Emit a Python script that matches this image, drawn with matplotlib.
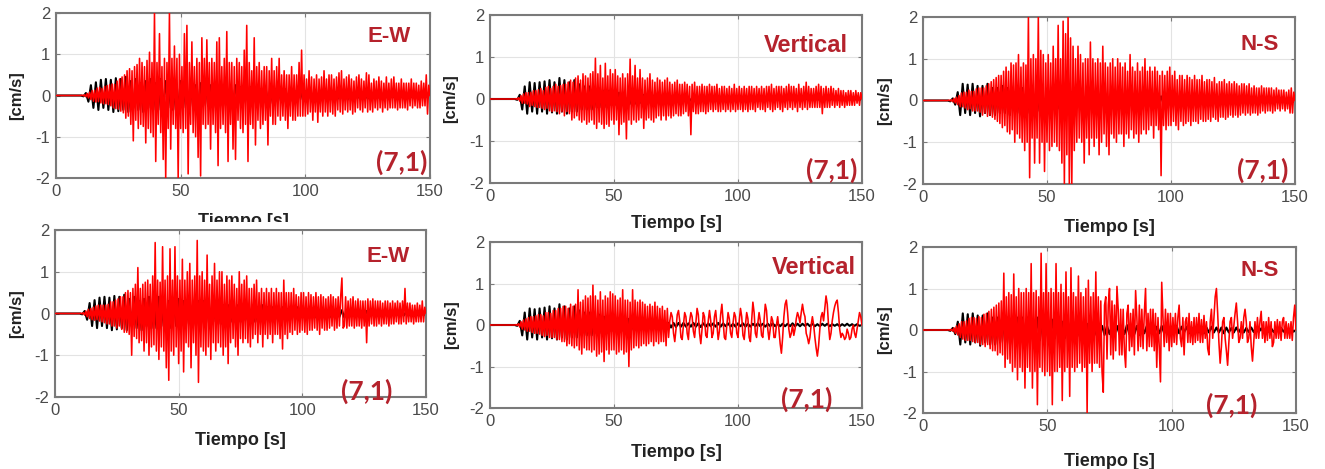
import numpy as np
import matplotlib
matplotlib.use("Agg")
import matplotlib.pyplot as plt
from matplotlib.patches import Rectangle

# ---------------- data ----------------
# x axis: time [s]; y: velocity [cm/s]
xticks = [0, 50, 100, 150]
yticks = [-2, -1, 0, 1, 2]
components = ["E-W", "Vertical", "N-S"]
case_label = "(7,1)"

red_t0, red_dt = 10.0, 0.5
blk_t0, blk_dt = 10.0, 1.0

# observed records (black), one per component, shared by both rows
black_ew = [
    0.0, -0.02, 0.06, -0.15, 0.25, -0.3, 0.32, -0.35, 0.38, -0.3,
    0.4, -0.35, 0.38, -0.4, 0.42, -0.38, 0.4, -0.35, 0.45, -0.4,
    0.35, -0.3, 0.4, -0.35, 0.3, -0.4, 0.35, -0.3, 0.4, -0.35,
    0.3, -0.35, 0.4, -0.3, 0.35, -0.3, 0.3, -0.35, 0.3, -0.3,
    0.35, -0.3, 0.3, -0.25, 0.3, -0.3, 0.25, -0.3, 0.3, -0.25,
    0.3, -0.25, 0.25, -0.3, 0.25, -0.2, 0.25, -0.25, 0.2, -0.25,
    0.2, -0.2, 0.25, -0.2, 0.2, -0.2, 0.2, -0.15, 0.2, -0.2,
    0.15, -0.2, 0.15, -0.15, 0.2, -0.15, 0.15, -0.2, 0.15, -0.15,
    0.15, -0.1, 0.15, -0.15, 0.1, -0.15, 0.1, -0.1, 0.15, -0.1,
    0.1, -0.1, 0.1, -0.1, 0.12, -0.1, 0.1, -0.08, 0.1, -0.1,
    0.08, -0.1, 0.08, -0.08, 0.1, -0.08, 0.08, -0.1, 0.08, -0.08,
    0.08, -0.06, 0.08, -0.08, 0.06, -0.08, 0.06, -0.06, 0.08, -0.06,
    0.06, -0.06, 0.05, -0.06, 0.06, -0.05, 0.05, -0.06, 0.05, -0.05,
    0.05, -0.05, 0.04, -0.05, 0.05, -0.04, 0.04, -0.05, 0.04, -0.04,
    0.0]
black_vert = [
    0.0, -0.02, 0.1, -0.25, 0.3, -0.35, 0.4, -0.3, 0.38, -0.35,
    0.4, -0.3, 0.42, -0.35, 0.45, -0.32, 0.4, -0.35, 0.5, -0.3,
    0.45, -0.35, 0.4, -0.3, 0.45, -0.3, 0.35, -0.25, 0.3, -0.25,
    0.3, -0.25, 0.25, -0.2, 0.25, -0.2, 0.2, -0.2, 0.2, -0.15,
    0.2, -0.15, 0.15, -0.15, 0.15, -0.12, 0.15, -0.12, 0.1, -0.12,
    0.1, -0.1, 0.1, -0.08, 0.1, -0.08, 0.08, -0.08, 0.08, -0.06,
    0.06, -0.06, 0.05, -0.06, 0.05, -0.05, 0.05, -0.04, 0.05, -0.04,
    0.04, -0.04, 0.05, -0.04, 0.04, -0.05, 0.04, -0.04, 0.04, -0.03,
    0.04, -0.04, 0.05, -0.04, 0.04, -0.03, 0.04, -0.04, 0.03, -0.04,
    0.04, -0.03, 0.04, -0.04, 0.03, -0.04, 0.03, -0.03, 0.04, -0.03,
    0.03, -0.04, 0.03, -0.03, 0.04, -0.03, 0.03, -0.03, 0.03, -0.03,
    0.03, -0.03, 0.04, -0.03, 0.03, -0.03, 0.03, -0.02, 0.03, -0.03,
    0.03, -0.03, 0.02, -0.03, 0.03, -0.02, 0.03, -0.03, 0.02, -0.02,
    0.02, -0.03, 0.02, -0.02, 0.03, -0.02, 0.02, -0.02, 0.02, -0.02,
    0.0]
black_ns = [
    0.0, -0.02, 0.05, -0.1, 0.2, -0.35, 0.4, -0.3, 0.38, -0.35,
    0.4, -0.3, 0.35, -0.38, 0.35, -0.3, 0.4, -0.35, 0.3, -0.35,
    0.3, -0.3, 0.35, -0.3, 0.3, -0.35, 0.3, -0.25, 0.3, -0.3,
    0.3, -0.25, 0.3, -0.3, 0.25, -0.25, 0.3, -0.25, 0.25, -0.2,
    0.25, -0.2, 0.25, -0.2, 0.2, -0.2, 0.2, -0.2, 0.2, -0.15,
    0.2, -0.15, 0.15, -0.15, 0.15, -0.15, 0.15, -0.12, 0.15, -0.12,
    0.12, -0.12, 0.1, -0.12, 0.1, -0.1, 0.12, -0.1, 0.1, -0.1,
    0.1, -0.1, 0.12, -0.1, 0.08, -0.1, 0.1, -0.12, 0.1, -0.08,
    0.1, -0.08, 0.1, -0.1, 0.08, -0.08, 0.1, -0.08, 0.08, -0.1,
    0.08, -0.08, 0.1, -0.08, 0.08, -0.06, 0.08, -0.08, 0.06, -0.08,
    0.08, -0.06, 0.08, -0.08, 0.06, -0.06, 0.08, -0.06, 0.06, -0.06,
    0.06, -0.08, 0.06, -0.06, 0.05, -0.06, 0.06, -0.05, 0.05, -0.06,
    0.05, -0.05, 0.06, -0.05, 0.05, -0.05, 0.04, -0.05, 0.05, -0.04,
    0.04, -0.05, 0.04, -0.04, 0.05, -0.04, 0.04, -0.04, 0.04, -0.04,
    0.0]

# simulated records (red), top row
red_ew_top = [
    0.00, 0.01, -0.01, 0.02, -0.03, 0.05, -0.06, 0.08, -0.10, 0.12, -0.14, 0.13, -0.16, 0.18, -0.15, 0.20, -0.18, 0.17, -0.20, 0.22,
    -0.20, 0.24, -0.22, 0.26, -0.25, 0.28, -0.30, 0.27, -0.32, 0.35, -0.33, 0.40, -0.38, 0.45, -0.42, 0.50, -0.55, 0.60, -0.50, 0.65,
    -0.70, 0.60, -1.10, 0.70, -0.60, 0.75, -0.80, 0.90, -0.70, 0.80, -0.75, 0.70, -1.15, 0.85, -0.80, 1.05, -0.90, 0.80, -1.00, 2.00,
    -1.60, 0.80, -0.70, 1.50, -0.90, 0.70, -1.55, 0.90, -2.00, 0.80, -0.80, 2.00, -1.30, 0.90, -0.70, 1.20, -0.80, 0.90, -2.00, 1.00,
    -0.80, 0.70, -0.90, 1.50, -0.80, 1.70, -1.90, 0.80, -0.70, 1.30, -0.90, 0.70, -1.00, 0.90, -1.50, 0.80, -1.95, 1.40, -0.70, 0.90,
    -0.80, 1.35, -0.70, 0.80, -1.30, 0.90, -0.70, 0.80, -0.90, 1.30, -1.70, 1.40, -0.80, 0.70, -0.70, 0.90, -0.90, 1.55, -1.60, 0.80,
    -0.70, 0.80, -1.30, 0.70, -1.55, 0.90, -0.60, 0.80, -0.80, 0.70, -0.90, 1.10, -0.70, 1.70, -1.60, 0.80, -0.70, 0.60, -0.80, 1.40,
    -1.20, 0.70, -0.60, 0.80, -0.80, 0.60, -0.70, 0.70, -0.60, 0.70, -1.20, 0.60, -0.50, 0.90, -0.70, 0.60, -0.70, 0.70, -0.50, 0.90,
    -0.60, 0.50, -0.50, 0.60, -0.60, 0.50, -0.80, 0.50, -0.50, 0.70, -0.60, 0.50, -0.60, 0.50, -0.50, 0.80, -0.50, 1.10, -0.50, 0.50,
    -0.50, 0.40, -0.45, 0.60, -0.40, 0.45, -0.60, 0.40, -0.40, 0.50, -0.65, 0.40, -0.40, 0.45, -0.50, 0.60, -0.40, 0.40, -0.50, 0.50,
    -0.40, 0.50, -0.45, 0.40, -0.50, 0.45, -0.35, 0.55, -0.40, 0.60, -0.45, 0.40, -0.35, 0.45, -0.40, 0.50, -0.35, 0.40, -0.45, 0.35,
    -0.40, 0.45, -0.30, 0.50, -0.35, 0.40, -0.40, 0.35, -0.30, 0.55, -0.40, 0.50, -0.35, 0.30, -0.40, 0.40, -0.30, 0.35, -0.35, 0.45,
    -0.30, 0.35, -0.40, 0.30, -0.30, 0.45, -0.35, 0.30, -0.30, 0.40, -0.30, 0.45, -0.30, 0.30, -0.35, 0.30, -0.30, 0.40, -0.30, 0.30,
    -0.30, 0.30, -0.35, 0.30, -0.25, 0.40, -0.30, 0.30, -0.25, 0.30, -0.30, 0.25, -0.30, 0.35, -0.25, 0.30, -0.25, 0.50, -0.45, 0.25,
    0.00]
red_vert_top = [
    0.00, 0.01, -0.01, 0.03, -0.05, 0.08, -0.10, 0.12, -0.10, 0.15, -0.12, 0.15, -0.18, 0.16, -0.15, 0.20, -0.18, 0.20, -0.20, 0.22,
    -0.20, 0.25, -0.22, 0.20, -0.25, 0.28, -0.22, 0.30, -0.28, 0.25, -0.30, 0.30, -0.28, 0.35, -0.30, 0.30, -0.35, 0.32, -0.30, 0.35,
    -0.40, 0.35, -0.30, 0.40, -0.35, 0.45, -0.50, 0.40, -0.45, 0.50, -0.40, 0.55, -0.50, 0.45, -0.55, 0.60, -0.50, 0.55, -0.60, 0.50,
    -0.55, 0.60, -0.50, 0.65, -0.60, 0.97, -0.70, 0.60, -0.55, 0.80, -0.60, 0.50, -0.70, 0.85, -0.60, 0.55, -0.65, 0.70, -0.50, 0.60,
    -0.60, 0.70, -0.50, 0.55, -0.85, 0.50, -0.60, 0.60, -0.55, 0.50, -0.95, 0.60, -0.50, 0.95, -0.60, 0.55, -0.50, 0.80, -0.55, 0.50,
    -0.50, 0.70, -0.45, 0.50, -0.70, 0.45, -0.50, 0.50, -0.45, 0.60, -0.50, 0.45, -0.55, 0.40, -0.45, 0.50, -0.40, 0.45, -0.50, 0.40,
    -0.40, 0.45, -0.50, 0.50, -0.40, 0.40, -0.45, 0.35, -0.40, 0.40, -0.35, 0.45, -0.40, 0.35, -0.40, 0.35, -0.35, 0.40, -0.30, 0.35,
    -0.40, 0.30, -0.85, 0.35, -0.30, 0.40, -0.35, 0.30, -0.35, 0.30, -0.30, 0.35, -0.30, 0.30, -0.35, 0.30, -0.30, 0.35, -0.25, 0.30,
    -0.30, 0.30, -0.25, 0.35, -0.30, 0.25, -0.30, 0.30, -0.25, 0.30, -0.30, 0.25, -0.25, 0.30, -0.30, 0.25, -0.25, 0.35, -0.30, 0.25,
    -0.25, 0.30, -0.25, 0.25, -0.30, 0.30, -0.25, 0.25, -0.30, 0.30, -0.25, 0.30, -0.25, 0.25, -0.30, 0.30, -0.20, 0.25, -0.25, 0.30,
    -0.25, 0.25, -0.30, 0.30, -0.20, 0.30, -0.25, 0.35, -0.30, 0.25, -0.25, 0.30, -0.20, 0.30, -0.25, 0.30, -0.30, 0.25, -0.20, 0.30,
    -0.25, 0.35, -0.20, 0.30, -0.25, 0.30, -0.20, 0.25, -0.30, 0.35, -0.20, 0.25, -0.25, 0.30, -0.20, 0.40, -0.25, 0.30, -0.20, 0.25,
    -0.20, 0.25, -0.20, 0.30, -0.20, 0.35, -0.20, 0.30, -0.35, 0.25, -0.20, 0.30, -0.20, 0.25, -0.20, 0.30, -0.15, 0.25, -0.20, 0.20,
    -0.15, 0.25, -0.20, 0.20, -0.15, 0.20, -0.20, 0.15, -0.15, 0.20, -0.15, 0.20, -0.15, 0.15, -0.15, 0.20, -0.10, 0.15, -0.15, 0.15,
    0.00]
red_ns_top = [
    0.00, 0.01, -0.01, 0.02, -0.03, 0.05, -0.06, 0.08, -0.10, 0.12, -0.15, 0.18, -0.15, 0.20, -0.18, 0.20, -0.22, 0.25, -0.20, 0.22,
    -0.25, 0.22, -0.25, 0.28, -0.25, 0.30, -0.28, 0.30, -0.35, 0.30, -0.30, 0.35, -0.38, 0.40, -0.35, 0.45, -0.40, 0.50, -0.45, 0.55,
    -0.50, 0.60, -0.55, 0.60, -0.65, 0.70, -0.60, 0.80, -0.75, 0.70, -0.80, 0.90, -0.70, 0.85, -1.00, 0.90, -0.80, 1.10, -0.90, 0.80,
    -1.00, 0.90, -1.20, 0.85, -1.00, 2.00, -1.85, 1.00, -0.90, 1.10, -1.50, 1.00, -0.90, 2.00, -1.50, 1.20, -1.00, 1.10, -1.70, 0.90,
    -1.00, 1.10, -1.20, 0.90, -1.10, 1.30, -1.00, 1.00, -1.10, 1.80, -1.20, 1.00, -1.50, 1.90, -2.00, 1.60, -1.30, 2.00, -2.00, 1.50,
    -2.00, 1.30, -1.20, 1.00, -1.00, 1.30, -0.90, 1.10, -1.00, 0.90, -1.50, 1.00, -0.90, 1.00, -1.30, 1.40, -0.90, 1.00, -1.10, 0.90,
    -0.90, 1.00, -1.30, 0.90, -1.00, 1.30, -0.80, 0.90, -1.10, 0.80, -1.30, 0.90, -0.80, 1.00, -0.90, 0.80, -1.00, 1.00, -0.80, 0.90,
    -0.80, 0.80, -1.10, 0.90, -0.80, 0.70, -0.90, 1.10, -0.70, 0.80, -0.90, 0.70, -0.80, 0.90, -1.00, 0.70, -0.80, 0.80, -0.70, 1.00,
    -0.80, 0.70, -0.70, 0.80, -0.60, 0.70, -0.90, 0.80, -0.60, 0.70, -0.70, 0.60, -1.80, 0.70, -0.60, 0.60, -0.70, 0.70, -0.60, 0.80,
    -0.60, 0.60, -0.50, 0.70, -0.60, 0.50, -0.70, 0.60, -0.50, 0.60, -0.60, 0.50, -0.55, 0.60, -0.50, 0.55, -0.60, 0.50, -0.50, 0.60,
    -0.50, 0.50, -0.55, 0.50, -0.45, 0.60, -0.50, 0.45, -0.50, 0.50, -0.45, 0.50, -0.50, 0.45, -0.40, 0.55, -0.45, 0.40, -0.50, 0.45,
    -0.40, 0.45, -0.40, 0.50, -0.45, 0.40, -0.40, 0.45, -0.35, 0.40, -0.40, 0.45, -0.35, 0.40, -0.40, 0.35, -0.35, 0.40, -0.30, 0.40,
    -0.35, 0.35, -0.30, 0.40, -0.35, 0.30, -0.30, 0.35, -0.30, 0.30, -0.35, 0.30, -0.30, 0.35, -0.25, 0.30, -0.30, 0.30, -0.25, 0.30,
    -0.25, 0.30, -0.30, 0.25, -0.25, 0.30, -0.20, 0.25, -0.25, 0.25, -0.20, 0.25, -0.25, 0.20, -0.20, 0.25, -0.30, 0.30, -0.30, 0.20,
    0.00]

# simulated records (red), bottom row
red_ew_bot = [
    0.00, 0.01, -0.01, 0.02, -0.04, 0.06, -0.08, 0.10, -0.12, 0.12, -0.15, 0.15, -0.16, 0.18, -0.15, 0.20, -0.18, 0.20, -0.20, 0.20,
    -0.22, 0.20, -0.25, 0.22, -0.25, 0.28, -0.30, 0.28, -0.30, 0.32, -0.35, 0.35, -0.30, 0.40, -0.38, 0.40, -0.45, 0.50, -0.45, 0.55,
    -0.50, 0.50, -1.00, 0.60, -0.55, 0.70, -0.60, 1.10, -0.70, 0.60, -0.65, 0.70, -0.90, 0.75, -0.70, 0.80, -1.00, 0.70, -0.80, 0.90,
    -0.75, 1.70, -0.90, 0.80, -1.10, 0.75, -0.80, 1.60, -0.90, 0.80, -1.30, 0.90, -1.60, 1.55, -0.90, 0.80, -1.00, 1.60, -0.80, 0.90,
    -1.20, 0.80, -0.90, 1.30, -1.40, 0.80, -0.70, 1.00, -0.80, 1.20, -1.30, 0.80, -0.70, 0.90, -1.00, 1.75, -1.65, 0.90, -0.80, 1.00,
    -0.90, 0.80, -1.00, 1.40, -0.80, 0.70, -1.10, 0.90, -0.70, 1.20, -0.90, 0.80, -0.70, 1.00, -0.80, 1.00, -1.00, 0.70, -0.80, 0.90,
    -1.20, 0.80, -0.70, 0.90, -0.60, 0.70, -0.80, 0.60, -1.00, 1.00, -0.60, 0.70, -0.70, 0.80, -0.60, 0.90, -0.70, 0.60, -0.80, 0.60,
    -0.60, 0.70, -0.50, 0.80, -0.70, 0.50, -0.50, 0.60, -0.80, 0.50, -0.50, 0.60, -0.60, 0.50, -0.50, 0.60, -0.70, 0.50, -0.50, 0.60,
    -0.50, 0.50, -0.60, 0.50, -0.85, 0.80, -0.50, 0.50, -0.60, 0.50, -0.45, 0.50, -0.50, 0.60, -0.40, 0.45, -0.50, 0.40, -0.45, 0.50,
    -0.40, 0.50, -0.45, 0.40, -0.50, 0.50, -0.40, 0.45, -0.40, 0.40, -0.35, 0.50, -0.40, 0.40, -0.50, 0.45, -0.35, 0.40, -0.40, 0.35,
    -0.40, 0.40, -0.35, 0.45, -0.30, 0.40, -0.40, 0.35, -0.35, 0.40, -0.30, 0.40, 0.85, -0.35, -0.30, 0.40, -0.35, 0.30, -0.30, 0.35,
    -0.30, 0.40, -0.35, 0.30, -0.30, 0.35, -0.30, 0.30, -0.35, 0.30, -0.30, 0.30, -0.70, 0.35, -0.30, 0.30, -0.25, 0.35, -0.30, 0.30,
    -0.30, 0.30, -0.25, 0.30, -0.30, 0.25, -0.25, 0.30, -0.25, 0.30, -0.30, 0.25, -0.25, 0.30, -0.25, 0.25, -0.20, 0.30, -0.25, 0.25,
    -0.25, 0.30, -0.20, 0.60, -0.25, 0.25, -0.20, 0.25, -0.20, 0.20, -0.25, 0.20, -0.20, 0.25, -0.20, 0.20, -0.20, 0.30, -0.20, 0.15,
    0.00]
red_vert_bot = [
    0.00, 0.01, -0.01, 0.03, -0.05, 0.08, -0.10, 0.12, -0.12, 0.15, -0.15, 0.18, -0.15, 0.20, -0.18, 0.20, -0.20, 0.22, -0.20, 0.25,
    -0.22, 0.25, -0.25, 0.22, -0.28, 0.30, -0.25, 0.30, -0.30, 0.28, -0.30, 0.35, -0.30, 0.35, -0.35, 0.40, -0.35, 0.40, -0.40, 0.45,
    -0.40, 0.45, -0.50, 0.40, -0.45, 0.50, -0.50, 0.45, -0.55, 0.50, -0.50, 0.85, -0.60, 0.55, -0.70, 0.60, -0.55, 0.70, -0.60, 0.65,
    -0.60, 0.70, -0.65, 0.96, -0.60, 0.70, -0.75, 0.60, -0.70, 0.80, -0.65, 0.60, -0.88, 0.70, -0.60, 0.65, -0.70, 0.80, -0.60, 0.75,
    -0.60, 0.70, -0.70, 0.60, -0.65, 0.65, -0.60, 0.85, -0.70, 0.60, -0.65, 0.60, -1.00, 0.55, -0.60, 0.85, -0.55, 0.60, -0.50, 0.55,
    -0.55, 0.60, -0.50, 0.55, -0.45, 0.50, -0.50, 0.45, -0.45, 0.50, -0.40, 0.45, -0.50, 0.55, -0.40, 0.45, -0.45, 0.40, -0.40, 0.45,
    -0.40, 0.35, -0.50, 0.40, -0.30, 0.10, 0.30, 0.20, -0.20, -0.40, -0.10, 0.25, 0.35, 0.10, -0.30, -0.35, 0.00, 0.30, 0.20, -0.20,
    -0.35, 0.10, 0.30, 0.20, -0.15, -0.30, 0.05, 0.40, 0.25, -0.20, -0.45, -0.10, 0.30, 0.20, -0.25, -0.30, 0.10, 0.35, 0.10, -0.30,
    -0.20, 0.20, 0.35, 0.00, -0.35, -0.15, 0.25, 0.50, 0.10, -0.30, -0.35, 0.00, 0.30, 0.15, -0.20, -0.30, 0.05, 0.30, 0.20, -0.20,
    -0.30, 0.10, 0.40, 0.20, -0.25, -0.35, 0.00, 0.30, 0.15, -0.30, -0.40, 0.10, 0.55, 0.30, -0.20, -0.30, 0.05, 0.30, 0.10, -0.25,
    -0.30, 0.10, 0.50, 0.35, -0.10, -0.35, -0.10, 0.20, 0.10, -0.30, -0.30, 0.00, 0.20, -0.10, -0.45, -0.68, -0.30, 0.20, 0.50, 0.60,
    0.30, -0.10, -0.30, -0.20, 0.00, -0.25, -0.10, 0.15, 0.30, 0.20, 0.05, 0.30, 0.50, 0.30, 0.20, -0.20, -0.30, -0.45, -0.30, 0.00,
    0.20, 0.00, -0.30, -0.55, -0.75, -0.50, -0.10, 0.20, 0.30, 0.10, 0.40, 0.70, 0.50, 0.00, -0.35, -0.20, 0.10, 0.30, 0.45, 0.55,
    0.60, 0.30, -0.10, -0.30, -0.20, -0.25, -0.35, -0.30, -0.10, -0.20, -0.35, -0.30, -0.10, 0.00, -0.20, -0.30, -0.10, 0.10, 0.30, 0.20,
    0.00]
red_ns_bot = [
    0.00, 0.01, -0.01, 0.02, -0.03, 0.05, -0.08, 0.10, -0.12, 0.15, -0.18, 0.20, -0.22, 0.20, -0.25, 0.22, -0.25, 0.28, -0.25, 0.30,
    -0.28, 0.30, -0.30, 0.28, -0.30, 0.32, -0.35, 0.30, -0.35, 0.38, -0.40, 0.40, -0.35, 0.45, -0.45, 0.50, -0.50, 0.55, -0.50, 0.60,
    -0.60, 0.65, -0.55, 0.70, -0.60, 1.37, -0.90, 0.80, -0.70, 0.90, -0.80, 0.85, -1.00, 1.35, -0.90, 0.80, -1.20, 1.00, -0.90, 0.90,
    -1.00, 0.90, -1.40, 1.00, -0.90, 0.90, -1.00, 1.60, -1.40, 0.90, -1.00, 0.95, -1.80, 0.80, -0.90, 1.85, -1.00, 0.90, -1.10, 1.60,
    -1.00, 0.90, -1.10, 1.00, -1.80, 0.90, -1.00, 1.60, -1.00, 0.90, -0.90, 1.10, -1.70, 0.90, -1.00, 1.40, -0.90, 0.80, -1.60, 1.50,
    -0.90, 0.90, -1.00, 0.80, -0.90, 1.30, -0.80, 0.90, -1.00, 0.80, -0.90, 1.00, -2.00, 1.20, -0.80, 0.80, -1.00, 0.90, -0.80, 1.40,
    -0.80, 0.80, -0.90, 0.70, -1.00, -1.50, 0.60, 0.80, -0.70, 0.60, 1.00, -0.60, 0.70, -0.70, 0.60, -0.50, 1.05, 0.50, -0.60, 0.50,
    -0.60, 0.50, -0.50, -0.90, 0.40, 0.60, -0.50, 0.40, -0.40, 0.50, -0.60, 0.95, 0.30, -0.50, 0.60, -0.40, 0.50, -0.45, 0.40, 1.00,
    -0.50, 0.40, -0.40, 0.50, -0.40, 0.50, -0.50, 0.40, -0.90, 0.30, -0.40, -1.25, 1.15, 0.30, -0.40, 0.50, -0.30, 0.40, -0.50, 0.40,
    -0.40, 0.30, -0.30, 0.40, -0.35, 0.30, 0.60, -0.20, -0.40, 0.30, -0.60, 0.20, 0.30, -0.30, 0.40, -0.30, 0.20, -0.35, 0.30, -0.30,
    0.30, -0.25, 0.40, -0.30, 0.25, -0.30, 0.35, -0.20, 0.20, -0.45, -0.60, 0.20, 0.50, -0.20, 0.30, 0.80, 1.00, 0.40, -0.30, -0.80,
    -0.40, 0.20, 0.30, -0.20, -0.50, -0.85, -0.30, 0.20, 0.30, -0.20, 0.10, 0.40, 0.65, 0.20, -0.30, -0.20, 0.20, -0.20, 0.30, 0.50,
    0.20, -0.30, -0.20, 0.20, -0.40, -0.75, -0.30, 0.20, -0.20, 0.30, -0.20, 0.20, 0.45, -0.20, 0.20, -0.30, 0.20, -0.25, 0.30, -0.20,
    0.20, -0.40, -0.30, 0.20, -0.20, 0.25, -0.20, 0.20, -0.25, 0.20, 0.30, -0.20, 0.20, -0.20, 0.15, -0.20, 0.20, -0.25, 0.30, 0.60,
    0.00]

# ---------------- layout ----------------
W, H = 1325, 469
fig = plt.figure(figsize=(W / 100, H / 100), dpi=100)
fig.patch.set_facecolor("white")

# axes boxes in pixels: left, right, top, bottom
boxes = [
    (56, 430, 13, 178), (490, 862, 15, 183), (923, 1295, 17, 184),
    (55, 426, 230, 397), (490, 862, 242, 408), (923, 1296, 247, 413),
]
xlabel_off = [43, 41, 43, 43, 44, 48]
ylabel_off = [39, 39, 38, 38, 38, 38]
comp_pos = [(389, 36), (806, 46), (1260, 45), (388, 256), (814, 268), (1260, 270)]
case_pos = [(402, 162), (832, 170), (1263, 170), (367, 391), (807, 399), (1232, 405)]

reds = [red_ew_top, red_vert_top, red_ns_top, red_ew_bot, red_vert_bot, red_ns_bot]
blacks = [black_ew, black_vert, black_ns, black_ew, black_vert, black_ns]

RED = "#FF0000"
LABEL_RED = "#B5222C"
GRID = "#E3E3E3"
SPINE = "#7A7A7A"
TICKC = "#4A4A4A"
SANS = ["Liberation Sans", "DejaVu Sans"]


def with_start(vals, t0, dt):
    v = np.asarray(vals, dtype=float)
    t = t0 + dt * np.arange(len(v))
    return np.r_[0.0, t], np.r_[0.0, v]


for i, (l, r, t, b) in enumerate(boxes):
    ax = fig.add_axes([l / W, 1 - b / H, (r - l) / W, (b - t) / H])
    ax.set_facecolor("white")
    tb, vb = with_start(blacks[i], blk_t0, blk_dt)
    tr, vr = with_start(reds[i], red_t0, red_dt)
    ax.plot(tb, vb, color="#000000", lw=1.5, zorder=2)
    ax.plot(tr, vr, color=RED, lw=1.15, zorder=3)
    ax.set_xlim(0, 150)
    ax.set_ylim(-2, 2)
    ax.set_xticks(xticks)
    ax.set_yticks(yticks)
    ax.set_xticklabels([str(v) for v in xticks])
    ax.set_yticklabels([str(v) for v in yticks])
    ax.grid(True, color=GRID, lw=0.8, zorder=0)
    ax.set_axisbelow(True)
    for s in ax.spines.values():
        s.set_color(SPINE)
        s.set_linewidth(1.5)
    ax.tick_params(direction="in", length=3, width=0.8, color=SPINE,
                   top=True, right=True, labelsize=12, labelcolor=TICKC, pad=4)
    for lab in ax.get_xticklabels() + ax.get_yticklabels():
        lab.set_family(SANS)
    h = b - t
    w = r - l
    ax.set_xlabel("Tiempo [s]", fontsize=13, fontweight="bold", family=SANS,
                  color="#222222", va="center")
    ax.xaxis.set_label_coords(0.5, -xlabel_off[i] / h)
    ax.set_ylabel("[cm/s]", fontsize=12, fontweight="bold", family=SANS,
                  color="#222222", va="center")
    ax.yaxis.set_label_coords(-ylabel_off[i] / w, 0.5)

    cx, cy = comp_pos[i]
    fig.text(cx / W, 1 - cy / H, components[i % 3], ha="center", va="center",
             fontsize=17 if components[i % 3] == "Vertical" else 16,
             fontweight="bold", family=SANS, color=LABEL_RED, zorder=5)
    px, py = case_pos[i]
    fig.text(px / W, 1 - py / H, case_label, ha="center", va="center",
             fontsize=19, fontweight="bold", family=["Lato", "DejaVu Sans"],
             color=LABEL_RED, zorder=5)

# the top-left x label is partly hidden by the panel below it
fig.patches.append(Rectangle((100 / W, 1 - 228.8 / H), 320 / W, 6.5 / H,
                             transform=fig.transFigure, facecolor="white",
                             edgecolor="none", zorder=4))

fig.savefig("out.png", dpi=100, facecolor="white")
